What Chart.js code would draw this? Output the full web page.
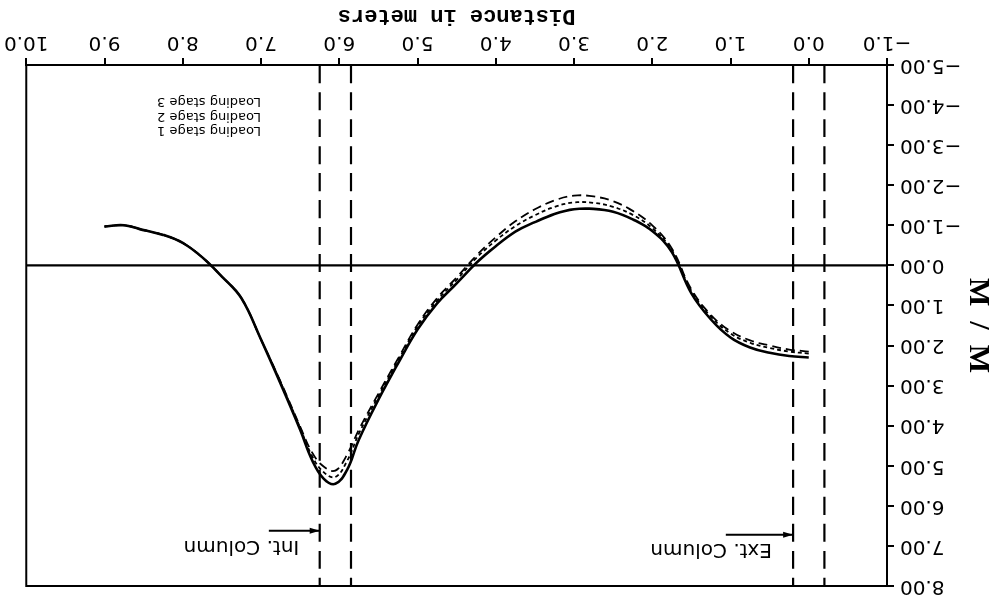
<!DOCTYPE html>
<html>
<head>
<meta charset="utf-8">
<script src="https://cdn.jsdelivr.net/npm/chart.js@4"></script>
<style>
  html, body { margin: 0; padding: 0; background: #fff; }
  /* the scanned figure is upside down, so the whole chart is turned round */
  #wrap { width: 998px; height: 604px; transform: rotate(180deg); }
</style>
</head>
<body>
<div id="wrap"><canvas id="moment-graph" width="998" height="604"></canvas></div>
<script>
const distance = [0, 0.25, 0.5, 0.75, 1.0, 1.25, 1.5, 1.75, 2.0, 2.25, 2.5, 2.75, 3.0, 3.25, 3.5, 3.75,
    4.0, 4.25, 4.5, 4.75, 5.0, 5.25, 5.5, 5.75, 5.9, 6.05, 6.2, 6.35, 6.5, 6.75, 7.0, 7.25, 7.5, 7.75,
    8.0, 8.25, 8.5, 8.75, 9.0];
const stage1 = [2.30, 2.26, 2.18, 2.05, 1.80, 1.35, 0.70, -0.33, -0.86, -1.15, -1.34, -1.41, -1.40, -1.28, -1.08, -0.84,
    -0.48, -0.06, 0.45, 0.95, 1.60, 2.45, 3.35, 4.35, 5.10, 5.45, 5.32, 4.85, 4.10, 2.95, 1.85, 0.82, 0.28, -0.20,
    -0.56, -0.76, -0.88, -1.00, -0.97];
const stage2 = [2.20, 2.15, 2.06, 1.93, 1.70, 1.28, 0.64, -0.38, -0.93, -1.26, -1.46, -1.56, -1.57, -1.46, -1.25, -0.98,
    -0.62, -0.18, 0.36, 0.88, 1.52, 2.38, 3.26, 4.20, 4.88, 5.28, 5.16, 4.75, 4.05, 2.92, 1.85, 0.82, 0.28, -0.20,
    -0.56, -0.76, -0.88, -1.00, -0.97];
const stage3 = [2.15, 2.10, 2.00, 1.87, 1.64, 1.24, 0.60, -0.42, -1.00, -1.36, -1.60, -1.72, -1.74, -1.62, -1.40, -1.10,
    -0.70, -0.24, 0.30, 0.82, 1.48, 2.33, 3.20, 4.10, 4.72, 5.12, 5.02, 4.66, 4.02, 2.90, 1.85, 0.82, 0.28, -0.20,
    -0.56, -0.76, -0.88, -1.00, -0.97];
const stageNames = ['Loading stage 1', 'Loading stage 2', 'Loading stage 3'];
const columnLines = [-0.2, 0.2, 5.85, 6.25];
const xTickLabels = ['\u22121.0', '0.0', '1.0', '2.0', '3.0', '4.0', '5.0', '6.0', '7.0', '8.0', '9.0', '10.0'];
const yTickLabels = ['\u22125.00', '\u22124.00', '\u22123.00', '\u22122.00', '\u22121.00', '0.00',
    '1.00', '2.00', '3.00', '4.00', '5.00', '6.00', '7.00', '8.00'];

const toPoints = ys => distance.map((d, i) => ({ x: d, y: ys[i] }));

Chart.defaults.font.family = '"DejaVu Sans", sans-serif';
Chart.defaults.color = '#000';

// frame, legend text and the column notes
const notesPlugin = {
    id: 'notes',
    afterDatasetsDraw(chart) {
        const { ctx, chartArea: a, scales: { x, y } } = chart;
        ctx.save();
        ctx.strokeStyle = '#000';
        ctx.fillStyle = '#000';
        ctx.lineWidth = 2;
        ctx.strokeRect(a.left, a.top, a.right - a.left, a.bottom - a.top);

        ctx.font = '13px "DejaVu Sans"';
        ctx.textAlign = 'left';
        ctx.textBaseline = 'middle';
        stageNames.forEach((name, i) => {
            ctx.fillText(name, x.getPixelForValue(7.0), y.getPixelForValue(-3.36 - i * 0.37));
        });

        const notes = [
            { text: 'Ext. Column', line: 0.2, textX: 0.47, textY: 7.08, arrowY: 6.72, tailX: 1.06 },
            { text: 'Int. Column', line: 6.25, textX: 6.51, textY: 7.0, arrowY: 6.62, tailX: 6.9 }
        ];
        ctx.font = '20px "DejaVu Sans"';
        notes.forEach(n => {
            ctx.fillText(n.text, x.getPixelForValue(n.textX), y.getPixelForValue(n.textY));
            const ay = y.getPixelForValue(n.arrowY);
            const hx = x.getPixelForValue(n.line);
            ctx.beginPath();
            ctx.moveTo(x.getPixelForValue(n.tailX), ay);
            ctx.lineTo(hx, ay);
            ctx.stroke();
            ctx.beginPath();
            ctx.moveTo(hx, ay);
            ctx.lineTo(hx + 10, ay - 3);
            ctx.lineTo(hx + 10, ay + 3);
            ctx.closePath();
            ctx.fill();
        });
        ctx.restore();
    }
};

const lineStyle = (dash, width) => ({
    borderColor: '#000', borderWidth: width, borderDash: dash,
    pointRadius: 0, fill: false, tension: 0.4
});

const datasets = [
    { label: stageNames[2], data: toPoints(stage3), ...lineStyle([9, 5], 1.8) },
    { label: stageNames[1], data: toPoints(stage2), ...lineStyle([4, 3], 1.8) },
    { label: stageNames[0], data: toPoints(stage1), ...lineStyle([], 2.6) },
    { label: 'zero', data: [{ x: -1, y: 0 }, { x: 10, y: 0 }], ...lineStyle([], 2.2) }
];
columnLines.forEach(c => {
    datasets.push({ label: 'column', data: [{ x: c, y: -5 }, { x: c, y: 8 }], ...lineStyle([18, 9], 2.2) });
});

const ctx = document.getElementById('moment-graph').getContext('2d');
const momentChart = new Chart(ctx, {
    type: 'line',
    data: { datasets: datasets },
    options: {
        responsive: false,
        animation: false,
        layout: { padding: { left: 0, right: 24, top: 12, bottom: 0 } },
        plugins: { legend: { display: false }, tooltip: { enabled: false } },
        scales: {
            x: {
                type: 'linear', min: -1, max: 10,
                afterFit: s => { s.height = 65; },
                border: { color: '#000', width: 2 },
                grid: { drawOnChartArea: false, color: '#000', lineWidth: 2, tickLength: 7 },
                ticks: {
                    stepSize: 1, padding: 4, maxRotation: 0,
                    font: { size: 20 },
                    callback: v => xTickLabels[Math.round(v) + 1]
                },
                title: {
                    display: true, text: 'Distance in meters',
                    font: { family: '"Liberation Mono"', size: 22, weight: 'bold' },
                    padding: { top: 0, bottom: 2 }
                }
            },
            y: {
                type: 'linear', min: -5, max: 8,
                afterFit: s => { s.width = 111; },
                border: { color: '#000', width: 2 },
                grid: { drawOnChartArea: false, color: '#000', lineWidth: 2, tickLength: 7 },
                ticks: {
                    stepSize: 1, padding: 6,
                    font: { size: 20 },
                    callback: v => yTickLabels[Math.round(v) + 5]
                },
                title: {
                    display: true, text: 'M  /  M',
                    font: { family: '"Liberation Serif"', size: 30, weight: 'bold' },
                    padding: { top: 2, bottom: 0 }
                }
            }
        }
    },
    plugins: [notesPlugin]
});
</script>
</body>
</html>
